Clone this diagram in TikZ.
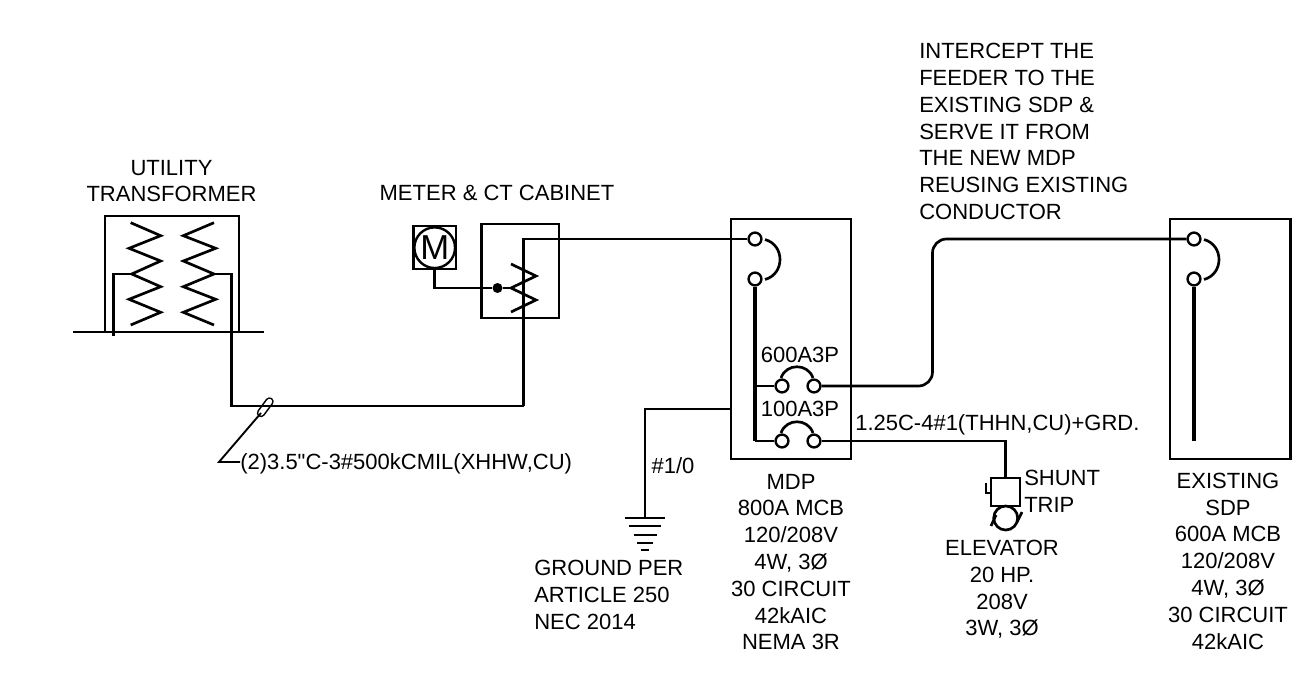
\documentclass[tikz,border=0pt]{standalone}
\usepackage{fontspec}
\setmainfont{Liberation Sans}
\newfontfamily\plainq{Liberation Sans}
\begin{document}
\begin{tikzpicture}[x=0.75pt,y=-0.75pt,
  wire/.style={line width=2pt,line join=miter},
  thin wire/.style={line width=1.4pt},
  box/.style={line width=2pt},
  bus/.style={line width=3.4pt},
  term/.style={circle,draw,line width=1.8pt,fill=white,minimum size=9.6pt,inner sep=0pt},
  lbl/.style={inner sep=0pt,font=\fontsize{16.5}{20.1}\selectfont,text depth=0pt},
  cl/.style={lbl,align=center},
  ll/.style={lbl,align=left}]
\useasboundingbox (0,0) rectangle (1315,693);
\fill[white] (0,0) rectangle (1315,693);

% Transformer
\draw[box] (105,332) |- (239,216) -- (239,332);
\draw[wire] (73,332) -- (264,332);
\draw[wire] (130.7,222.7) -- (160.7,235.7) -- (129,248.3) -- (160.7,261) -- (131.7,274) -- (160.7,286.7) -- (129,299.3) -- (160.7,312.3) -- (130.7,325);
\draw[wire] (214,222.7) -- (183.3,235.7) -- (215.7,248.3) -- (183.3,261) -- (214,274) -- (183.3,286.7) -- (215.7,299.3) -- (183.3,312.3) -- (214,325);
\coordinate (tl) at (131.7,274);
\coordinate (tr) at (214,274);
\coordinate (tb) at (113.3,336);
\coordinate (f1) at (231.7,406);
\coordinate (f2) at (523.5,406);
\draw[wire] (tb) -- (113.3,274) -- (tl);
\coordinate (tag1) at (269.5,401.5);
\coordinate (tag2) at (261,413);
\draw[line width=6.4pt,line cap=round] (tag1) -- (tag2);
\draw[line width=4pt,line cap=round,white] (tag1) -- (tag2);
\draw[wire] (tr) -- (231.7,274) -- (f1) -- (f2);
\node[cl] (xfmr) at (171.5,181) {UTILITY\\TRANSFORMER};

% Feeder tag
\coordinate (lead2) at (219,462);
\node[ll,anchor=west] (feeder) at (240,462) {(2)3.5{\plainq\symbol{34}}C-3\#500kCMIL(XHHW,CU)};
\draw[thin wire] (tag2) -- (lead2) -- (feeder.west);

% Meter
\node[cl] (metert) at (497,193) {METER \& CT CABINET};
\draw[box] (413.5,226) rectangle (456,269);
\node[circle,draw,line width=1.8pt,minimum size=30.5pt,inner sep=0pt,font=\fontsize{26}{28}\selectfont] (M) at (434.7,247.7) {M};
\draw[box] (481.7,224) rectangle (559,318);
\node[circle,fill=black,minimum size=7.5pt,inner sep=0pt] (dot) at (497.5,288) {};
\coordinate (ct) at (511,288);
\draw[wire] (434.7,269) -- (434.7,288) -- (dot) -- (ct);
\draw[wire] (511,264) -- (536,276) -- (ct) -- (536,300) -- (511,312);

% MDP
\draw[box] (731,219) rectangle (851,459);
\node[term] (a1) at (755,239) {};
\node[term] (a2) at (755,279) {};
\draw[wire] (765,239.5) .. controls (785,245) and (785,274) .. (765,279.5);
\draw[wire] (f2) -- (523.5,239) -- (a1);
\coordinate (busb) at (755,441);
\draw[bus] (a2) -- (busb);
\node[term] (b1) at (782,386) {};
\node[term] (b2) at (814,386) {};
\node[term] (c1) at (782,441) {};
\node[term] (c2) at (814,441) {};
\draw[wire] (755,386) -- (b1);
\draw[wire] (busb) -- (c1);
\draw[wire] (781,378) .. controls (786,363) and (808,363) .. (813,378);
\draw[wire] (781,433) .. controls (786,418) and (808,418) .. (813,433);
\node[cl] (l600) at (800,355) {600A3P};
\node[cl] (l100) at (800,409) {100A3P};
\node[ll,anchor=west] (l125) at (855,423) {1.25C-4\#1(THHN,CU)+GRD.};
\node[cl] (mdpt) at (791,562) {MDP\\800A MCB\\120/208V\\4W, 3Ø\\30 CIRCUIT\\42kAIC\\NEMA 3R};

% Ground
\coordinate (g0) at (731,409);
\coordinate (g1) at (645,518);
\draw[wire] (g0) -| (g1);
\draw[wire] (625,518) -- (665,518);
\draw[wire] (629,526) -- (661,526);
\draw[wire] (634,535) -- (657,535);
\draw[wire] (637,543) -- (653,543);
\draw[wire] (641,550) -- (649,550);
\node[cl] (g10) at (673,466) {\#1/0};
\node[ll,anchor=west] (gnd) at (534,595) {GROUND PER\\ARTICLE 250\\NEC 2014};

% Existing SDP
\draw[box] (1170,219) rectangle (1290.5,459);
\node[term] (d1) at (1194,239) {};
\node[term] (d2) at (1194,279) {};
\draw[wire] (1204,239.5) .. controls (1224,245) and (1224,274) .. (1204,279.5);
\draw[bus] (d2) -- (1194,441);
\draw[wire,rounded corners=10.5pt] (b2) -- (932.5,386) -- (932.5,239) -- (d1);
\node[cl] (sdpt) at (1228,561) {EXISTING\\SDP\\600A MCB\\120/208V\\4W, 3Ø\\30 CIRCUIT\\42kAIC};
\node[ll,anchor=north west] (note) at (919,43) {INTERCEPT THE\\FEEDER TO THE\\EXISTING SDP \&\\SERVE IT FROM\\THE NEW MDP\\REUSING EXISTING\\CONDUCTOR};

% Elevator
\draw[box] (991,478) rectangle (1020,506);
\draw[wire] (c2) -- (1005.7,441) -- (1005.7,478);
\draw[wire] (986,483) -- (986,493) -- (991,493);
\draw[wire] (1005.7,518) circle (12);
\draw[wire] (991,526) -- (996,515);
\draw[wire] (1022,512) -- (1017,522);
\node[ll,anchor=west] (shunt) at (1024,491) {SHUNT\\TRIP};
\node[cl] (elev) at (1002,588) {ELEVATOR\\20 HP.\\208V\\3W, 3Ø};
\end{tikzpicture}
\end{document}
